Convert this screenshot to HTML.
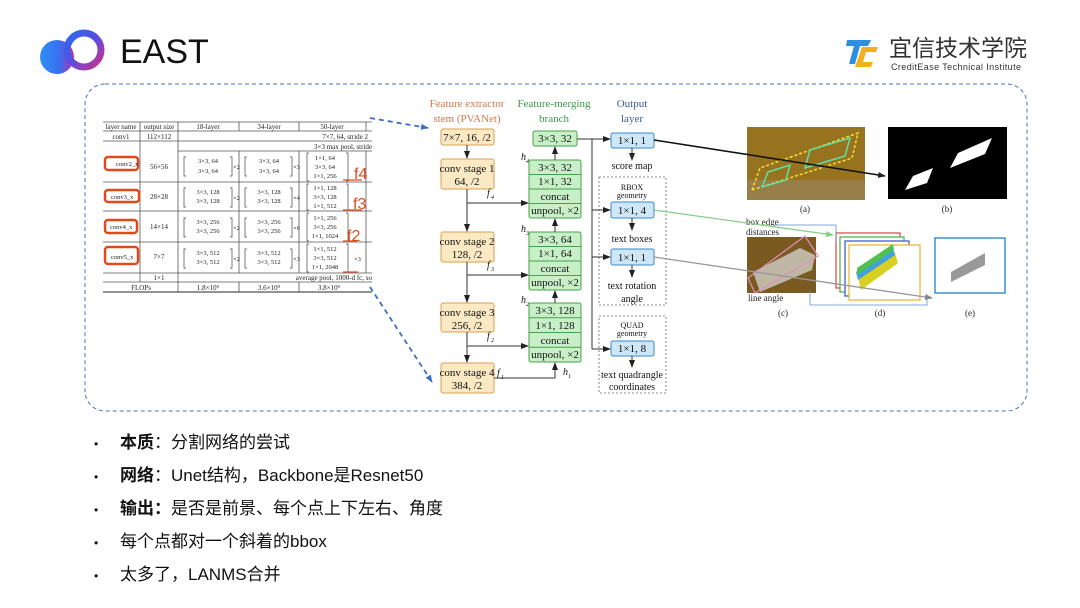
<!DOCTYPE html>
<html><head><meta charset="utf-8"><style>
html,body{margin:0;padding:0;background:#fff;width:1080px;height:608px;overflow:hidden}
svg{display:block}
.s{font-family:"Liberation Serif",serif;}
.c{text-anchor:middle}
</style></head><body>
<svg width="1080" height="608" viewBox="0 0 1080 608" xmlns="http://www.w3.org/2000/svg">
<defs>
<linearGradient id="g1" x1="0" y1="0" x2="1" y2="0"><stop offset="0" stop-color="#2f8ef5"/><stop offset="0.6" stop-color="#3a6df0"/><stop offset="1" stop-color="#c0309a"/></linearGradient>
<linearGradient id="g2" x1="0" y1="0" x2="1" y2="1"><stop offset="0" stop-color="#2b6cf0"/><stop offset="0.5" stop-color="#5a4ce0"/><stop offset="1" stop-color="#d0308a"/></linearGradient>
<marker id="ak" markerWidth="8" markerHeight="8" refX="7" refY="4" orient="auto" markerUnits="userSpaceOnUse"><path d="M0,1 L8,4 L0,7z" fill="#222"/></marker>
<marker id="ab" markerWidth="8" markerHeight="8" refX="7" refY="4" orient="auto" markerUnits="userSpaceOnUse"><path d="M0,1 L8,4 L0,7z" fill="#3a6fc8"/></marker>
<marker id="ag" markerWidth="8" markerHeight="8" refX="7" refY="4" orient="auto" markerUnits="userSpaceOnUse"><path d="M0,1 L8,4 L0,7z" fill="#888"/></marker>
<marker id="agr" markerWidth="8" markerHeight="8" refX="7" refY="4" orient="auto" markerUnits="userSpaceOnUse"><path d="M0,1 L8,4 L0,7z" fill="#8c8"/></marker>
</defs>
<!-- logo -->
<circle cx="57" cy="57" r="17" fill="url(#g1)"/>
<circle cx="84" cy="50" r="17" fill="none" stroke="url(#g2)" stroke-width="7"/>
<text x="120" y="63" font-family="Liberation Sans,sans-serif" font-size="34" fill="#111">EAST</text>
<!-- right logo -->
<path d="M847,40 h24 l-3,6 h-8 l-5,18 h-6 l5,-18 h-8z" fill="#2d8fe0"/>
<path d="M862,47 h16 l-2,5 h-10 l-3,10 h10 l-2,5 h-16z" fill="#f2b01e"/>
<text x="889" y="56" font-family="'Noto Sans CJK SC',sans-serif" font-size="23" fill="#333">宜信技术学院</text>
<text x="891" y="70" font-family="Liberation Sans,sans-serif" font-size="9" fill="#333" letter-spacing="0.4">CreditEase Technical Institute</text>
<!-- dashed box -->
<rect x="85" y="84" width="942" height="327" rx="20" fill="none" stroke="#4a72b8" stroke-width="1" stroke-dasharray="4,3"/>
<!-- table -->
<g class="s" font-size="7" fill="#222" stroke="none">
<g stroke="#555" stroke-width="0.8">
<line x1="103" y1="122" x2="372" y2="122"/><line x1="103" y1="131" x2="372" y2="131"/>
<line x1="103" y1="141" x2="372" y2="141"/><line x1="178" y1="151" x2="372" y2="151"/>
<line x1="103" y1="182" x2="372" y2="182"/><line x1="103" y1="211" x2="372" y2="211"/>
<line x1="103" y1="242" x2="372" y2="242"/><line x1="103" y1="273" x2="372" y2="273"/>
<line x1="103" y1="282" x2="372" y2="282"/><line x1="103" y1="292" x2="372" y2="292" stroke-width="1.2"/>
<line x1="140" y1="122" x2="140" y2="282"/><line x1="178" y1="122" x2="178" y2="292"/>
<line x1="239" y1="122" x2="239" y2="131"/><line x1="239" y1="151" x2="239" y2="273"/><line x1="239" y1="282" x2="239" y2="292"/>
<line x1="299" y1="122" x2="299" y2="131"/><line x1="299" y1="151" x2="299" y2="273"/><line x1="299" y1="282" x2="299" y2="292"/>
<line x1="366" y1="122" x2="366" y2="131"/><line x1="366" y1="151" x2="366" y2="273"/>
</g>
<text x="121" y="129" class="c">layer name</text><text x="159" y="129" class="c">output size</text>
<text x="208" y="129" class="c">18-layer</text><text x="269" y="129" class="c">34-layer</text><text x="332" y="129" class="c">50-layer</text>
<text x="121" y="139" class="c">conv1</text><text x="159" y="139" class="c">112×112</text>
<text x="368" y="139" text-anchor="end">7×7, 64, stride 2</text>
<text x="372" y="149" text-anchor="end">3×3 max pool, stride</text>
<text x="159" y="169" class="c">56×56</text><text x="159" y="199" class="c">28×28</text>
<text x="159" y="229" class="c">14×14</text><text x="159" y="259" class="c">7×7</text>
<text x="159" y="280" class="c">1×1</text><text x="372" y="280" text-anchor="end">average pool, 1000-d fc, so</text>
<text x="141" y="290" class="c">FLOPs</text><text x="208" y="290" class="c">1.8×10⁹</text><text x="269" y="290" class="c">3.6×10⁹</text><text x="329" y="290" class="c">3.8×10⁹</text>
<g font-size="6.5">
<text x="208" y="163" class="c">3×3, 64</text><text x="208" y="173" class="c">3×3, 64</text>
<text x="269" y="163" class="c">3×3, 64</text><text x="269" y="173" class="c">3×3, 64</text>
<text x="208" y="194" class="c">3×3, 128</text><text x="208" y="203" class="c">3×3, 128</text>
<text x="269" y="194" class="c">3×3, 128</text><text x="269" y="203" class="c">3×3, 128</text>
<text x="208" y="224" class="c">3×3, 256</text><text x="208" y="233" class="c">3×3, 256</text>
<text x="269" y="224" class="c">3×3, 256</text><text x="269" y="233" class="c">3×3, 256</text>
<text x="208" y="255" class="c">3×3, 512</text><text x="208" y="264" class="c">3×3, 512</text>
<text x="269" y="255" class="c">3×3, 512</text><text x="269" y="264" class="c">3×3, 512</text>
<text x="325" y="160" class="c">1×1, 64</text><text x="325" y="169" class="c">3×3, 64</text><text x="325" y="178" class="c">1×1, 256</text>
<text x="325" y="190" class="c">1×1, 128</text><text x="325" y="199" class="c">3×3, 128</text><text x="325" y="208" class="c">1×1, 512</text>
<text x="325" y="220" class="c">1×1, 256</text><text x="325" y="229" class="c">3×3, 256</text><text x="325" y="238" class="c">1×1, 1024</text>
<text x="325" y="251" class="c">1×1, 512</text><text x="325" y="260" class="c">3×3, 512</text><text x="325" y="269" class="c">1×1, 2048</text>
<text x="233" y="169">×2</text><text x="293" y="169">×3</text>
<text x="233" y="200">×2</text><text x="293" y="200">×4</text>
<text x="233" y="230">×2</text><text x="293" y="230">×6</text>
<text x="233" y="261">×2</text><text x="293" y="261">×3</text><text x="354" y="261">×3</text>
</g>
<g fill="none" stroke="#444" stroke-width="0.7">
<path d="M186,157 h-2 v19 h2 M230,157 h2 v19 h-2 M247,157 h-2 v19 h2 M290,157 h2 v19 h-2"/>
<path d="M186,188 h-2 v19 h2 M230,188 h2 v19 h-2 M247,188 h-2 v19 h2 M290,188 h2 v19 h-2"/>
<path d="M186,218 h-2 v19 h2 M230,218 h2 v19 h-2 M247,218 h-2 v19 h2 M290,218 h2 v19 h-2"/>
<path d="M186,249 h-2 v19 h2 M230,249 h2 v19 h-2 M247,249 h-2 v19 h2 M290,249 h2 v19 h-2"/>
<path d="M309,153 h-2 v28 h2 M346,153 h2 v28 h-2 M309,184 h-2 v26 h2 M346,184 h2 v26 h-2 M309,213 h-2 v28 h2 M346,213 h2 v28 h-2 M309,244 h-2 v28 h2 M346,244 h2 v28 h-2"/>
</g>
<g fill="none" stroke="#e04a1a" stroke-width="2.5">
<rect x="105" y="157" width="33" height="13" rx="3"/><rect x="105" y="190" width="34" height="12" rx="3"/>
<rect x="105" y="220" width="32" height="13" rx="3"/><rect x="105" y="247" width="33" height="17" rx="3"/>
</g>
<text x="116" y="166" font-size="6.5">conv2_x</text><text x="111" y="199" font-size="6.5">conv3_x</text>
<text x="110" y="229" font-size="6.5">conv4_x</text><text x="111" y="259" font-size="6.5">conv5_x</text>
<g fill="#e04a1a" font-family="Liberation Sans,sans-serif" font-size="16"><text x="354" y="179">f4</text><text x="353" y="209">f3</text><text x="347" y="241">f2</text></g>
<g stroke="#e04a1a" stroke-width="1.2"><line x1="343" y1="180" x2="362" y2="180"/><line x1="343" y1="210" x2="362" y2="210"/><line x1="343" y1="241" x2="357" y2="241"/><line x1="343" y1="272" x2="358" y2="272"/></g>
</g>
<!-- blue dashed arrows -->
<path d="M370,118 L428,128" stroke="#3a6fc8" stroke-width="1.8" stroke-dasharray="5,4" fill="none" marker-end="url(#ab)"/>
<path d="M370,287 L432,382" stroke="#3a6fc8" stroke-width="1.8" stroke-dasharray="5,4" fill="none" marker-end="url(#ab)"/>
<!-- network -->
<g class="s" font-size="11">
<text x="467" y="107" class="c" fill="#d2784a">Feature extractor</text><text x="467" y="122" class="c" fill="#d2784a">stem (PVANet)</text>
<text x="554" y="107" class="c" fill="#3a9a4a">Feature-merging</text><text x="554" y="122" class="c" fill="#3a9a4a">branch</text>
<text x="632" y="107" class="c" fill="#3a5a9a">Output</text><text x="632" y="122" class="c" fill="#3a5a9a">layer</text>
<g fill="#fbe9c4" stroke="#d9a050" stroke-width="1">
<rect x="441" y="129" width="53" height="16" rx="2"/><rect x="441" y="159" width="53" height="30" rx="2"/>
<rect x="441" y="232" width="53" height="30" rx="2"/><rect x="441" y="303" width="53" height="29" rx="2"/>
<rect x="441" y="363" width="53" height="30" rx="2"/>
</g>
<g fill="#111">
<text x="467" y="141" class="c">7×7, 16, /2</text>
<text x="467" y="172" class="c">conv stage 1</text><text x="467" y="185" class="c">64, /2</text>
<text x="467" y="245" class="c">conv stage 2</text><text x="467" y="258" class="c">128, /2</text>
<text x="467" y="316" class="c">conv stage 3</text><text x="467" y="329" class="c">256, /2</text>
<text x="467" y="376" class="c">conv stage 4</text><text x="467" y="389" class="c">384, /2</text>
</g>
<g fill="#c8f0c8" stroke="#4aa04a" stroke-width="1">
<rect x="533" y="131" width="44" height="15" rx="2"/>
<rect x="529" y="160" width="52" height="58" rx="2"/><rect x="529" y="232" width="52" height="58" rx="2"/><rect x="529" y="303" width="52" height="59" rx="2"/>
<path d="M529,174.5h52M529,189h52M529,203.5h52M529,246.5h52M529,261h52M529,275.5h52M529,317.7h52M529,332.5h52M529,347.2h52"/>
</g>
<g fill="#111">
<text x="555" y="142" class="c">3×3, 32</text>
<text x="555" y="171" class="c">3×3, 32</text><text x="555" y="185" class="c">1×1, 32</text><text x="555" y="200" class="c">concat</text><text x="555" y="214" class="c">unpool, ×2</text>
<text x="555" y="243" class="c">3×3, 64</text><text x="555" y="257" class="c">1×1, 64</text><text x="555" y="272" class="c">concat</text><text x="555" y="286" class="c">unpool, ×2</text>
<text x="555" y="314" class="c">3×3, 128</text><text x="555" y="329" class="c">1×1, 128</text><text x="555" y="344" class="c">concat</text><text x="555" y="358" class="c">unpool, ×2</text>
</g>
<g fill="none" stroke="#666" stroke-dasharray="2,2" stroke-width="0.8"><rect x="599" y="177" width="67" height="128"/><rect x="599" y="316" width="67" height="77"/></g>
<g fill="#cfe6f7" stroke="#3a8ac8" stroke-width="1">
<rect x="611" y="133" width="43" height="15" rx="2"/><rect x="611" y="202" width="43" height="16" rx="2"/>
<rect x="611" y="249" width="43" height="16" rx="2"/><rect x="611" y="341" width="43" height="15" rx="2"/>
</g>
<g fill="#111">
<text x="632" y="144" class="c">1×1, 1</text><text x="632" y="214" class="c">1×1, 4</text>
<text x="632" y="261" class="c">1×1, 1</text><text x="632" y="352" class="c">1×1, 8</text>
<text x="632" y="169" class="c" font-size="10">score map</text>
<text x="632" y="190" class="c" font-size="8">RBOX</text><text x="632" y="198" class="c" font-size="8">geometry</text>
<text x="632" y="242" class="c" font-size="10">text boxes</text>
<text x="632" y="289" class="c" font-size="10">text rotation</text><text x="632" y="302" class="c" font-size="10">angle</text>
<text x="632" y="328" class="c" font-size="8">QUAD</text><text x="632" y="336" class="c" font-size="8">geometry</text>
<text x="632" y="378" class="c" font-size="10">text quadrangle</text><text x="632" y="390" class="c" font-size="10">coordinates</text>
</g>
<g font-style="italic" font-size="10" fill="#111">
<text x="487" y="196">f</text><text x="491" y="199" font-size="6">4</text>
<text x="487" y="268">f</text><text x="491" y="271" font-size="6">3</text>
<text x="487" y="339">f</text><text x="491" y="342" font-size="6">2</text>
<text x="497" y="376">f</text><text x="501" y="379" font-size="6">1</text>
<text x="521" y="160">h</text><text x="526" y="163" font-size="6">4</text>
<text x="521" y="232">h</text><text x="526" y="235" font-size="6">3</text>
<text x="521" y="303">h</text><text x="526" y="306" font-size="6">2</text>
<text x="563" y="375">h</text><text x="568" y="378" font-size="6">1</text>
</g>
<g stroke="#333" stroke-width="1" fill="none">
<path d="M467,145 V158" marker-end="url(#ak)"/><path d="M467,189 V231" marker-end="url(#ak)"/>
<path d="M467,262 V302" marker-end="url(#ak)"/><path d="M467,332 V362" marker-end="url(#ak)"/>
<path d="M467,203 H528" marker-end="url(#ak)"/><path d="M467,275 H528" marker-end="url(#ak)"/><path d="M467,346 H528" marker-end="url(#ak)"/>
<path d="M494,378 H555 V363" marker-end="url(#ak)"/>
<path d="M555,303 V291" marker-end="url(#ak)"/><path d="M555,232 V219" marker-end="url(#ak)"/><path d="M555,160 V147" marker-end="url(#ak)"/>
<path d="M577,139 H610" marker-end="url(#ak)"/>
<path d="M592,139 V349"/>
<path d="M592,210 H610" marker-end="url(#ak)"/><path d="M592,257 H610" marker-end="url(#ak)"/><path d="M592,349 H610" marker-end="url(#ak)"/>
<path d="M632,148 V160" marker-end="url(#ak)"/><path d="M632,218 V230" marker-end="url(#ak)"/>
<path d="M632,265 V277" marker-end="url(#ak)"/><path d="M632,356 V367" marker-end="url(#ak)"/>
</g>
</g>
<!-- images -->
<rect x="747" y="127" width="118" height="73" fill="#8a6a22"/>
<rect x="747" y="127" width="118" height="73" fill="#a07a20" opacity="0.6"/>
<rect x="747" y="180" width="118" height="20" fill="#9a8a70" opacity="0.5"/>
<polygon points="752,190 760,168 858,133 852,158" fill="none" stroke="#f5e030" stroke-width="1.5" stroke-dasharray="3,2"/>
<polygon points="762,187 768,172 790,165 786,180" fill="none" stroke="#60e0a0" stroke-width="1.5"/>
<polygon points="805,168 810,150 850,138 845,156" fill="none" stroke="#60e0a0" stroke-width="1.5"/>
<rect x="888" y="127" width="119" height="72" fill="#000"/>
<polygon points="905,190 913,176 933,168 927,183" fill="#fff"/>
<polygon points="950,168 958,153 992,138 985,154" fill="#fff"/>
<g class="s" font-size="9" fill="#222">
<text x="805" y="212" class="c">(a)</text><text x="947" y="212" class="c">(b)</text>
<text x="783" y="316" class="c">(c)</text><text x="880" y="316" class="c">(d)</text><text x="970" y="316" class="c">(e)</text>
<text x="746" y="225">box edge</text><text x="746" y="235">distances</text><text x="748" y="301">line angle</text>
</g>
<rect x="747" y="237" width="69" height="56" fill="#7a5a20"/>
<polygon points="753,272 800,248 815,255 812,270 760,292" fill="#ddd" opacity="0.7"/>
<polygon points="748,278 805,236 818,256 755,293" fill="none" stroke="#e090c0" stroke-width="1.2"/>
<g fill="none" stroke-width="1.2">
<rect x="836" y="233" width="64" height="55" stroke="#e04040" fill="#fff"/>
<rect x="840" y="237" width="64" height="55" stroke="#40b040" fill="#fff"/>
<rect x="845" y="241" width="64" height="55" stroke="#3050d0" fill="#fff"/>
<rect x="849" y="245" width="71" height="55" stroke="#f0b030" fill="#fff"/>
</g>
<polygon points="858,277 895,253 898,263 861,290" fill="#d8d020"/>
<polygon points="856,272 893,248 895,255 858,280" fill="#40a0e0"/>
<polygon points="857,268 893,244 894,250 857,275" fill="#50c050"/>
<rect x="935" y="238" width="70" height="55" fill="#fff" stroke="#3a90d8" stroke-width="1.5"/>
<polygon points="951,282 951,272 985,253 985,265" fill="#999"/>
<path d="M775,225 H836 V242 M810,290 V305 H927 V295" fill="none" stroke="#5a90d0" stroke-width="0.8"/>
<!-- arrows -->
<path d="M654,140 L885,176" stroke="#111" stroke-width="1.6" fill="none" marker-end="url(#ak)"/>
<path d="M654,210 L833,235" stroke="#8c8" stroke-width="1.3" fill="none" marker-end="url(#agr)"/>
<path d="M654,257 L932,298" stroke="#999" stroke-width="1.3" fill="none" marker-end="url(#ag)"/>
<!-- bullets -->
<g font-family="'Liberation Sans','Noto Sans CJK SC',sans-serif" font-size="17" fill="#111">
<text x="94" y="448" font-size="12">•</text><text x="120" y="448"><tspan font-weight="bold">本质</tspan>：分割网络的尝试</text>
<text x="94" y="481" font-size="12">•</text><text x="120" y="481"><tspan font-weight="bold">网络</tspan>：Unet结构，Backbone是Resnet50</text>
<text x="94" y="514" font-size="12">•</text><text x="120" y="514"><tspan font-weight="bold">输出：</tspan>是否是前景、每个点上下左右、角度</text>
<text x="94" y="547" font-size="12">•</text><text x="120" y="547">每个点都对一个斜着的bbox</text>
<text x="94" y="580" font-size="12">•</text><text x="120" y="580">太多了，LANMS合并</text>
</g>
</svg>
</body></html>
